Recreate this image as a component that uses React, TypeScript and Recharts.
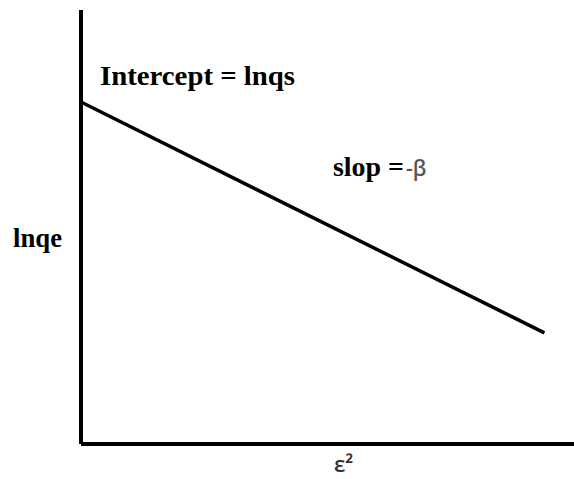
import React from "react";
import { Customized, Line, LineChart, XAxis, YAxis } from "recharts";

// Dubinin–Radushkevich linear plot: lnqe against ε²
const epsilonSq = [0, 94];
const lnQe = [78.8, 25.6];

const interceptLabel = "Intercept = lnqs";
const slopeLabel = "slop =";
const slopeValue = "-β";
const xTitle = "ε²";
const yTitle = "lnqe";

const rows = epsilonSq.map((x, i) => ({ x, y: lnQe[i] }));

const serif = "'Liberation Serif', 'Times New Roman', serif";
const sans = "'Open Sans', 'DejaVu Sans', sans-serif";

function Annotations() {
  return (
    <g>
      <text
        x={100}
        y={85}
        fontFamily={serif}
        fontWeight="bold"
        fontSize={28}
        textLength={195}
        lengthAdjust="spacingAndGlyphs"
        fill="#000"
      >
        {interceptLabel}
      </text>
      <text
        x={333}
        y={176}
        fontFamily={serif}
        fontWeight="bold"
        fontSize={27}
        textLength={71}
        lengthAdjust="spacingAndGlyphs"
        fill="#000"
      >
        {slopeLabel}
      </text>
      <text x={406} y={176} fontFamily={sans} fontWeight="600" fontSize={21} fill="#555">
        {slopeValue}
      </text>
      <text
        x={13}
        y={247}
        fontFamily={serif}
        fontWeight="bold"
        fontSize={27}
        textLength={49}
        lengthAdjust="spacingAndGlyphs"
        fill="#000"
      >
        {yTitle}
      </text>
      <text x={334} y={472} fontFamily={sans} fontWeight="600" fontSize={22} fill="#333">
        {xTitle}
      </text>
    </g>
  );
}

export default function App() {
  return (
    <div style={{ position: "absolute", left: 0, top: 0, width: 574, height: 479, background: "#fff" }}>
      <LineChart width={574} height={479} data={rows} margin={{ top: 10, right: 0, bottom: 34, left: 80 }}>
        <XAxis
          dataKey="x"
          type="number"
          domain={[0, 100]}
          tick={false}
          tickLine={false}
          height={1}
          axisLine={{ stroke: "#000", strokeWidth: 4 }}
        />
        <YAxis
          type="number"
          domain={[0, 100]}
          tick={false}
          tickLine={false}
          width={1}
          axisLine={{ stroke: "#000", strokeWidth: 4 }}
        />
        <Line
          dataKey="y"
          stroke="#000"
          strokeWidth={3.5}
          dot={false}
          isAnimationActive={false}
        />
        <Customized component={Annotations} />
      </LineChart>
    </div>
  );
}
